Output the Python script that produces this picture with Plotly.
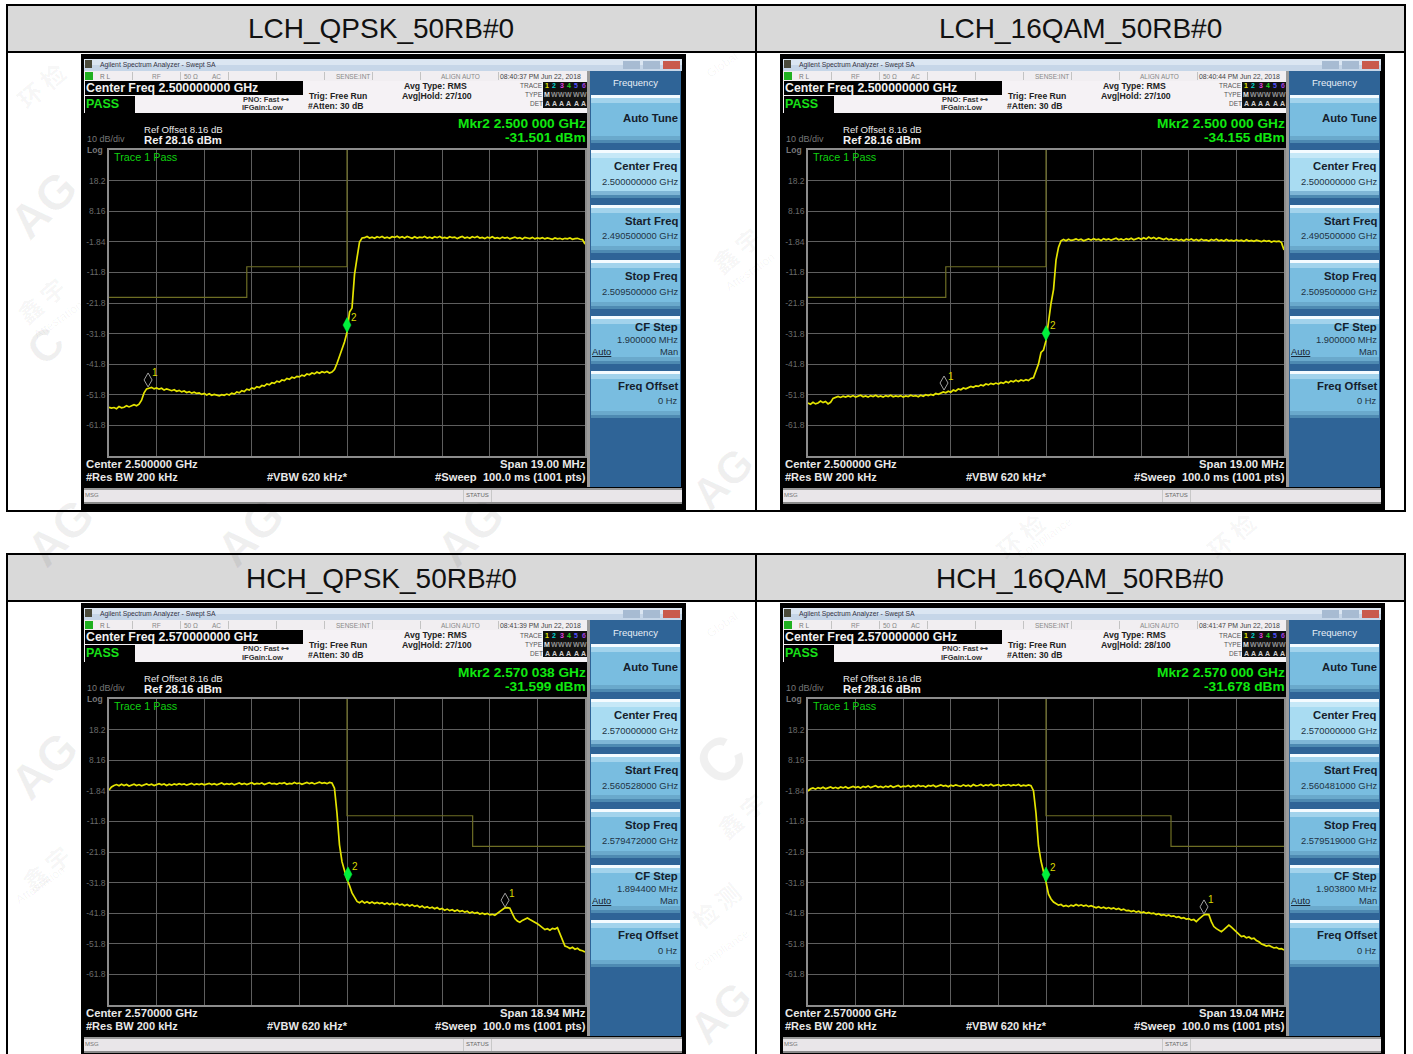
import numpy as np
import plotly.graph_objects as go

W, H = 1413, 1054

# ---------- text content ----------
panel_titles = ["LCH_QPSK_50RB#0", "LCH_16QAM_50RB#0", "HCH_QPSK_50RB#0", "HCH_16QAM_50RB#0"]
center_freq = ["2.500000000 GHz", "2.500000000 GHz", "2.570000000 GHz", "2.570000000 GHz"]
center_short = ["2.500000 GHz", "2.500000 GHz", "2.570000 GHz", "2.570000 GHz"]
timestamps = ["08:40:37 PM Jun 22, 2018", "08:40:44 PM Jun 22, 2018", "08:41:39 PM Jun 22, 2018", "08:41:47 PM Jun 22, 2018"]
avg_hold = ["27/100", "27/100", "27/100", "28/100"]
mkr_freq = ["2.500 000 GHz", "2.500 000 GHz", "2.570 038 GHz", "2.570 000 GHz"]
mkr_level = ["-31.501 dBm", "-34.155 dBm", "-31.599 dBm", "-31.678 dBm"]
start_freq = ["2.490500000 GHz", "2.490500000 GHz", "2.560528000 GHz", "2.560481000 GHz"]
stop_freq = ["2.509500000 GHz", "2.509500000 GHz", "2.579472000 GHz", "2.579519000 GHz"]
cf_step = ["1.900000 MHz", "1.900000 MHz", "1.894400 MHz", "1.903800 MHz"]
span_text = ["19.00 MHz", "19.00 MHz", "18.94 MHz", "19.04 MHz"]

# ---------- axes ----------
span_mhz = [19.00, 19.00, 18.94, 19.04]
level_ticks = [18.16, 8.16, -1.84, -11.84, -21.84, -31.84, -41.84, -51.84, -61.84]
level_labels = ["18.2", "8.16", "-1.84", "-11.8", "-21.8", "-31.8", "-41.8", "-51.8", "-61.8"]
level_top, level_bottom = 28.16, -71.84

# ---------- limit lines (MHz from centre, dBm) ----------
limit_low_f = [-9.5, -4.0, -4.0, 0.0, 0.0, 9.5]
limit_low_l = [-20, -20, -10, -10, 30, 30]
limit_high_q_f = [-9.47, 0.0, 0.0, 5.0, 5.0, 9.47]
limit_high_16_f = [-9.52, 0.0, 0.0, 5.0, 5.0, 9.52]
limit_high_l = [30, 30, -10, -10, -20, -20]

# ---------- traces: level read at each 1/190 of the span, left to right ----------
t1_l = [-55.9,-56.2,-56.0,-56.4,-55.7,-56.1,-55.9,-55.4,-55.8,-55.5,-55.1,-55.4,-54.9,-53.6,-51.2,-49.9,
        -49.6,-49.4,-49.9,-49.6,-50.0,-49.7,-50.3,-49.9,-50.2,-50.5,
        -50.2,-50.7,-50.4,-50.9,-50.6,-51.1,-50.8,-51.3,-51.0,-51.4,
        -51.2,-51.7,-51.4,-51.9,-51.5,-52.0,-51.7,-51.9,-52.2,-51.8,
        -52.0,-51.6,-51.9,-51.3,-51.6,-50.9,-51.2,-50.5,-50.8,-50.0,
        -50.3,-49.6,-49.9,-49.2,-49.5,-48.8,-49.0,-48.3,-48.6,-47.9,
        -48.1,-47.4,-47.7,-47.0,-47.2,-46.5,-46.8,-46.1,-46.4,-45.8,
        -46.0,-45.4,-45.7,-45.0,-45.3,-44.7,-45.0,-44.4,-44.8,-44.3,
        -44.6,-44.2,-44.7,-44.4,-43.6,-41.6,-39.4,-37.0,-34.6,-31.5,
        -24.8,-23.5,-12.5,-7.1,-1.9,-0.6,
        -0.5,-0.1,-0.6,-0.3,-0.7,-0.2,-0.5,-0.1,-0.6,-0.3,
        -0.7,-0.2,-0.4,0.0,-0.5,-0.2,-0.6,-0.1,-0.4,-0.7,
        -0.2,-0.6,-0.3,-0.5,-0.1,-0.6,-0.3,-0.7,-0.2,-0.5,
        -0.1,-0.6,-0.4,-0.7,-0.2,-0.5,-0.3,-0.8,-0.4,-0.1,
        -0.6,-0.3,-0.7,-0.2,-0.5,-0.1,-0.6,-0.4,-0.8,-0.3,
        -0.6,-0.2,-0.7,-0.5,-0.8,-0.3,-0.6,-0.4,-0.9,-0.5,
        -0.3,-0.7,-0.5,-0.9,-0.4,-0.6,-0.8,-0.4,-0.9,-0.6,
        -0.8,-0.5,-0.9,-0.6,-0.8,-1.0,-0.6,-0.9,-0.7,-1.0,
        -0.7,-0.9,-0.6,-1.0,-0.8,-0.7,-1.0,-1.1,-2.6]

t2_l = [-54.5,-54.9,-54.3,-54.8,-54.5,-53.9,-54.4,-54.0,-54.8,-54.3,
        -53.0,-52.7,-52.4,-52.7,-52.3,-52.6,
        -52.2,-52.5,-52.1,-52.6,-52.3,-52.0,-52.5,-52.2,-52.6,-52.1,
        -52.4,-52.0,-52.5,-52.2,-52.6,-52.1,-52.4,-52.0,-52.5,-52.2,
        -52.4,-52.1,-52.6,-52.2,-52.4,-52.0,-52.3,-52.1,-52.5,-52.0,
        -52.3,-51.8,-52.1,-51.7,-52.0,-51.4,-51.7,-51.2,-50.9,-51.2,
        -50.7,-51.0,-50.3,-50.6,-49.9,-50.2,-49.6,-49.9,-49.4,-49.1,
        -49.4,-48.9,-49.1,-48.6,-48.9,-48.3,-48.6,-48.1,-48.4,-48.0,
        -48.3,-47.8,-48.1,-47.5,-47.9,-47.3,-47.6,-47.1,-47.5,-47.0,
        -47.3,-46.9,-47.2,-46.5,-46.3,-44.2,-41.8,-38.0,-37.2,-34.16,
        -27.5,-22.0,-17.5,-7.8,-3.6,-1.5,
        -1.1,-1.5,-1.0,-1.4,-1.2,-0.9,-1.3,-1.0,-1.5,-1.1,
        -0.9,-1.3,-0.8,-1.2,-1.0,-1.4,-0.8,-1.2,-0.9,-1.3,
        -1.0,-0.7,-1.2,-0.9,-1.3,-0.8,-1.1,-0.7,-1.2,-0.9,
        -0.6,-1.0,-0.5,-0.9,-0.3,-0.8,-0.4,-0.9,-0.5,-0.8,
        -1.1,-0.7,-1.2,-0.9,-1.3,-1.0,-1.4,-1.1,-1.5,-1.0,
        -1.3,-0.9,-1.4,-1.1,-1.5,-1.0,-1.4,-1.2,-1.6,-1.1,
        -1.4,-1.0,-1.5,-1.2,-1.6,-1.1,-1.5,-1.3,-1.6,-1.2,
        -1.5,-1.3,-1.7,-1.2,-1.6,-1.4,-1.7,-1.3,-1.5,-1.8,
        -1.4,-1.7,-1.5,-1.9,-1.6,-1.8,-1.6,-2.1,-4.5]

t3_l = [-1.6,-0.6,-0.1,0.2,-0.2,0.3,-0.1,0.2,-0.3,0.1,
        0.3,-0.1,0.2,-0.2,0.1,0.4,0.0,0.3,-0.1,0.2,
        0.5,0.1,0.4,-0.1,0.3,0.0,0.4,0.1,0.5,0.2,
        0.4,0.0,0.3,0.6,0.1,0.4,0.2,0.5,0.1,0.3,
        0.6,0.2,0.5,0.1,0.4,0.7,0.2,0.5,0.3,0.6,
        0.1,0.4,0.7,0.3,0.6,0.2,0.5,0.8,0.3,0.6,
        0.4,0.7,0.2,0.5,0.8,0.4,0.6,0.3,0.7,0.5,
        0.8,0.3,0.6,0.4,0.9,0.5,0.7,0.3,0.6,0.9,
        0.5,0.8,0.4,0.7,1.0,0.6,0.8,0.5,0.9,0.7,
        -1.0,-9.1,-19.5,-25.0,-28.2,-30.8,-32.8,-35.2,-36.6,-38.0,
        -38.4,-37.9,-38.5,-38.1,-38.6,-38.2,-38.7,-38.3,-38.7,-38.4,
        -38.9,-38.5,-39.0,-38.6,-39.1,-38.7,-39.2,-38.9,-39.4,-39.0,
        -39.5,-39.1,-39.6,-39.3,-39.9,-39.5,-40.1,-39.7,-40.2,-39.9,
        -40.4,-40.0,-40.6,-40.3,-40.9,-40.5,-41.0,-40.7,-41.2,-40.8,
        -41.3,-41.0,-41.5,-41.2,-41.8,-41.4,-41.9,-41.6,-42.1,-41.8,
        -42.2,-41.9,-42.4,-42.2,-42.5,-41.9,-41.2,-40.6,-40.1,-40.0,
        -40.2,-42.0,-43.6,-44.4,-44.8,-44.2,-43.7,-43.4,-43.9,-44.3,
        -44.8,-45.3,-45.9,-46.5,-47.2,-46.9,-47.4,-46.8,-47.0,-46.6,
        -48.5,-51.0,-52.6,-52.9,-53.4,-53.0,-53.6,-53.3,-53.9,-54.1,-54.5]

t4_l = [-1.9,-1.2,-0.9,-1.3,-0.8,-1.1,-0.7,-1.2,-0.9,-0.6,
        -1.0,-0.7,-1.1,-0.6,-0.9,-0.5,-1.0,-0.7,-0.4,-0.8,
        -0.5,-0.9,-0.4,-0.7,-0.3,-0.8,-0.5,-0.2,-0.7,-0.4,
        -0.8,-0.3,-0.6,-0.2,-0.7,-0.4,-0.1,-0.6,-0.3,-0.5,
        -0.1,-0.6,-0.2,-0.5,0.0,-0.4,-0.2,-0.6,-0.1,-0.3,
        0.0,-0.5,-0.2,0.1,-0.3,-0.1,-0.5,0.0,-0.3,0.1,
        -0.2,-0.4,0.1,-0.3,0.0,-0.4,0.2,-0.2,-0.1,0.2,
        -0.3,0.1,-0.1,0.3,-0.2,0.0,0.2,-0.3,0.1,-0.1,
        0.2,-0.2,0.1,-0.1,0.2,-0.3,0.0,-0.2,0.1,-0.17,
        -1.8,-9.1,-19.8,-24.8,-27.9,-31.68,-35.6,-37.2,-38.2,-38.6,
        -39.2,-39.0,-39.6,-39.3,-39.7,-39.2,-39.5,-39.0,-39.4,-39.1,
        -39.5,-39.2,-39.7,-39.4,-39.8,-40.1,-39.7,-40.2,-39.9,-40.3,
        -40.0,-40.4,-40.1,-40.6,-40.3,-40.8,-40.5,-41.0,-40.9,-41.3,
        -41.0,-41.5,-41.2,-41.7,-41.4,-41.9,-41.6,-42.0,-41.8,-42.3,
        -42.0,-42.5,-42.3,-42.7,-42.4,-42.9,-42.7,-43.2,-43.0,-43.5,
        -43.3,-43.8,-43.6,-44.1,-43.9,-44.6,-43.8,-43.0,-42.4,-42.2,
        -42.3,-44.6,-46.2,-46.9,-47.3,-47.9,-47.2,-46.4,-45.7,-46.4,
        -47.2,-48.0,-48.8,-49.5,-49.3,-49.9,-49.6,-50.2,-50.0,-50.8,
        -51.2,-51.9,-52.2,-52.6,-52.4,-52.9,-53.2,-53.0,-53.5,-53.4,-53.9]

trace_l = [t1_l, t2_l, t3_l, t4_l]
limit_f = [limit_low_f, limit_low_f, limit_high_q_f, limit_high_16_f]
limit_l = [limit_low_l, limit_low_l, limit_high_l, limit_high_l]

# ---------- markers (MHz from centre, dBm at the trace) ----------
mkr1_f = [-7.94, -4.07, 6.29, 6.32]
mkr1_l = [-49.6, -50.6, -40.2, -42.4]
mkr2_f = [0.0, 0.0, 0.038, 0.0]
mkr2_l = [-31.501, -34.155, -31.599, -31.678]

FONT = "Liberation Sans"
shapes, annos = [], []

def X(px): return px / W
def Y(py): return 1 - py / H

def rect(x0, y0, x1, y1, fill):
    shapes.append(dict(type="rect", xref="paper", yref="paper", x0=X(x0), x1=X(x1), y0=Y(y0), y1=Y(y1),
                       fillcolor=fill, line=dict(width=0), layer="below"))

def txt(px, py, s, size, color, anchor="left", bold=False, angle=0, family=FONT):
    nudge = {"left": -1, "right": 1.5, "center": 0}[anchor]
    annos.append(dict(xref="paper", yref="paper", x=X(px + nudge), y=Y(py), xanchor=anchor, yanchor="middle",
                      text=f"<b>{s}</b>" if bold else s, showarrow=False, textangle=angle, borderpad=0,
                      font=dict(family=family, size=size, color=color)))

# ---------- report table ----------
rect(7, 6, 1405, 52, "#d9d9d9")
rect(7, 555, 1405, 601, "#d9d9d9")
for (a, b, c, d) in [(6, 4, 1406, 6), (6, 51, 1406, 53), (6, 510, 1406, 512), (6, 553, 1406, 555), (6, 600, 1406, 602),
                     (6, 4, 8, 512), (1404, 4, 1406, 512), (755, 4, 757, 512),
                     (6, 553, 8, 1054), (1404, 553, 1406, 1054), (755, 553, 757, 1054)]:
    rect(a, b, c, d, "#000000")

centers = [(381, 29), (1080, 29), (381, 578), (1080, 578)]
for (cx, cy), t in zip(centers, panel_titles):
    txt(cx, cy, t, 28, "#111111", "center")

# ---------- analyzer windows ----------
offsets = [(0, 0), (699, 0), (0, 549), (699, 549)]
TRACE_COL = ["#e0e000", "#00d0d0", "#e040e0", "#20d020", "#5050ff", "#a040e0"]
layout_axes = {}
data = []

for i, (ox, oy) in enumerate(offsets):
    def R(a, b, c, d, f): rect(a + ox, b + oy, c + ox, d + oy, f)
    def T(a, b, s, size, col, anchor="left", bold=False): txt(a + ox, b + oy, s, size, col, anchor, bold)

    R(81, 54, 686, 510, "#000000")
    # title bar
    R(84, 59, 682, 65, "#dbe6f2")
    R(84, 65, 682, 71, "#c6d6e8")
    R(85, 60, 92, 68, "#4a4a3a")
    T(100, 65, "Agilent Spectrum Analyzer - Swept SA", 6.8, "#333344")
    R(623, 61, 640, 69, "#a7bbd2")
    R(643, 61, 660, 69, "#a7bbd2")
    R(663, 61, 680, 69, "#c95a4c")
    # status row
    R(84, 71, 587, 81, "#f1eef1")
    R(85, 72, 93, 80, "#20b020")
    for sx in [132, 180, 228, 276, 324, 372, 420, 498]:
        R(sx, 72, sx + 0.8, 80, "#b8b8b8")
    T(100, 76, "R L", 6.5, "#777777")
    T(152, 76, "RF", 6.5, "#888888")
    T(184, 76, "50 Ω", 6.5, "#888888")
    T(212, 76, "AC", 6.5, "#888888")
    T(336, 76, "SENSE:INT", 6.5, "#888888")
    T(441, 76, "ALIGN AUTO", 6.5, "#888888")
    T(500, 76, timestamps[i], 6.9, "#444444")
    # info row
    R(84, 81, 587, 113, "#f5f2f5")
    R(85, 81, 303, 95, "#000000")
    T(86, 88, f"Center Freq {center_freq[i]}", 12.3, "#f0f0f0", bold=True)
    R(85, 96, 135, 113, "#000000")
    T(86, 104, "PASS", 12.5, "#18e018", bold=True)
    T(243, 99, "PNO: Fast ⊶", 7.5, "#333333", bold=True)
    T(242, 108, "IFGain:Low", 7.5, "#333333", bold=True)
    T(309, 96, "Trig: Free Run", 8.6, "#222222", bold=True)
    T(308, 106, "#Atten: 30 dB", 8.6, "#222222", bold=True)
    T(404, 86, "Avg Type: RMS", 8.7, "#222222", bold=True)
    T(402, 96, f"Avg|Hold: {avg_hold[i]}", 8.7, "#222222", bold=True)
    T(542, 86, "TRACE", 6.5, "#555555", "right")
    T(542, 95, "TYPE", 6.5, "#555555", "right")
    T(542, 104, "DET", 6.5, "#555555", "right")
    R(543, 82, 587, 108, "#111111")
    for k in range(6):
        cx = 547 + k * 7.3
        T(cx, 86, str(k + 1), 7, TRACE_COL[k], "center", True)
        T(cx, 95, "M" if k == 0 else "W", 7, "#e0e0e0" if k == 0 else "#909090", "center", True)
        T(cx, 104, "A", 7, "#d0d0d0", "center", True)
    # screen text
    T(144, 129, "Ref Offset 8.16 dB", 9.6, "#e8e8e8")
    T(144, 140, "Ref 28.16 dBm", 11.3, "#f0f0f0", bold=True)
    T(87, 139, "10 dB/div", 9, "#777777")
    T(87, 149.5, "Log", 8.5, "#777777", bold=True)
    T(114, 157, "Trace 1 Pass", 10.8, "#10d010")
    T(585, 123, f"Mkr2 {mkr_freq[i]}", 13.7, "#10e810", "right", True)
    T(585, 137, mkr_level[i], 13.7, "#10e810", "right", True)
    T(86, 464, f"Center {center_short[i]}", 11.3, "#e8e8e8", bold=True)
    T(86, 477, "#Res BW 200 kHz", 11, "#e8e8e8", bold=True)
    T(267, 477, "#VBW 620 kHz*", 11, "#e8e8e8", bold=True)
    T(585, 464, f"Span {span_text[i]}", 11.3, "#e8e8e8", "right", True)
    T(585, 477, "#Sweep  100.0 ms (1001 pts)", 11.2, "#e8e8e8", "right", True)
    # soft keys
    R(587, 71, 590, 487, "#9a9a9a")
    R(590, 71, 681, 487, "#2f6497")
    T(635, 83, "Frequency", 9.5, "#e8eef6", "center")
    keys = [(95, 142, False), (150, 197, True), (205, 252, False), (260, 308, False), (316, 363, False), (371, 417, False)]
    for (a, b, hi) in keys:
        body = "#a9dcf2" if hi else "#79bde0"
        R(591, a, 680, a + 3, "#f4fbff")
        R(591, a + 3, 680, a + 8, "#c6e8f7" if hi else "#a2d3ec")
        R(591, a + 8, 680, b - 6, body)
        R(591, b - 6, 680, b - 2, "#6aa9cc" if not hi else "#7fb6d6")
        R(591, b - 2, 680, b + 1, "#4e8ab2")
    T(677, 118, "Auto Tune", 11.3, "#15202c", "right", True)
    T(677, 166, "Center Freq", 11.3, "#15202c", "right", True)
    T(677, 181, center_freq[i], 9.4, "#223344", "right")
    T(677, 221, "Start Freq", 11.3, "#15202c", "right", True)
    T(677, 236, start_freq[i], 9.4, "#223344", "right")
    T(677, 276, "Stop Freq", 11.3, "#15202c", "right", True)
    T(677, 291, stop_freq[i], 9.4, "#223344", "right")
    T(677, 327, "CF Step", 11.3, "#15202c", "right", True)
    T(677, 339, cf_step[i], 9.4, "#223344", "right")
    T(592, 351, "<u>Auto</u>", 9.4, "#15202c")
    T(677, 351, "Man", 9.4, "#223344", "right")
    T(677, 386, "Freq Offset", 11.3, "#15202c", "right", True)
    T(677, 401, "0 Hz", 9.4, "#223344", "right")
    # message bar
    R(84, 488, 682, 504, "#e9e6e9")
    R(84, 488, 682, 490, "#9a9a9a")
    R(84, 502, 682, 504, "#8a8a8a")
    R(463, 490, 464, 502, "#c8c8c8")
    R(491, 490, 492, 502, "#c8c8c8")
    T(85, 495, "MSG", 6, "#777777")
    T(477, 495, "STATUS", 6, "#666666", "center")

    # plot area through Plotly axes
    n = "" if i == 0 else str(i + 1)
    half = span_mhz[i] / 2
    step = span_mhz[i] / 10
    layout_axes[f"xaxis{n}"] = dict(
        domain=[X(109 + ox), X(585 + ox)], range=[-half, half], anchor=f"y{n}",
        tickvals=[-half + step * k for k in range(11)], showticklabels=False,
        showgrid=True, gridcolor="#5e5e5e", gridwidth=1, zeroline=False,
        showline=True, linecolor="#8c8c8c", linewidth=1.5, mirror=True, ticks="")
    layout_axes[f"yaxis{n}"] = dict(
        domain=[Y(456 + oy), Y(150 + oy)], range=[level_bottom, level_top], anchor=f"x{n}",
        tickvals=level_ticks, ticktext=level_labels, showgrid=True, gridcolor="#5e5e5e", gridwidth=1,
        zeroline=False, showline=True, linecolor="#8c8c8c", linewidth=1.5, mirror=True, ticks="",
        tickfont=dict(family=FONT, size=8.5, color="#6a6a6a"))

    data.append(go.Scatter(x=limit_f[i], y=limit_l[i], xaxis=f"x{n}", yaxis=f"y{n}", mode="lines",
                           line=dict(color="#6e6e24", width=1.2), cliponaxis=False, hoverinfo="skip"))
    sweep = np.linspace(-half, half, len(trace_l[i]))
    data.append(go.Scatter(x=sweep, y=trace_l[i], xaxis=f"x{n}", yaxis=f"y{n}", mode="lines",
                           line=dict(color="#e4e400", width=1.7), hoverinfo="skip"))

    xr, yr = f"x{n}", f"y{n}"
    shapes.append(dict(type="path", xref=xr, yref=yr, xsizemode="pixel", ysizemode="pixel",
                       xanchor=mkr1_f[i], yanchor=mkr1_l[i], path="M0,1 L4,8 L0,15 L-4,8 Z",
                       fillcolor="rgba(0,0,0,0)", line=dict(color="#a0a0a0", width=1), layer="above"))
    shapes.append(dict(type="path", xref=xr, yref=yr, xsizemode="pixel", ysizemode="pixel",
                       xanchor=mkr2_f[i], yanchor=mkr2_l[i], path="M0,0 L4,7.5 L0,15 L-4,7.5 Z",
                       fillcolor="#00f03c", line=dict(color="#00f03c", width=0.5), layer="above"))
    for mf, ml, lab in [(mkr1_f[i], mkr1_l[i], "1"), (mkr2_f[i], mkr2_l[i], "2")]:
        annos.append(dict(xref=xr, yref=yr, x=mf, y=ml, xshift=7, yshift=15, text=lab, showarrow=False,
                          font=dict(family=FONT, size=10, color="#d8d800")))

# ---------- faint watermarks: black at low alpha vanishes on the black screens ----------
WM = "rgba(0,0,0,0.06)"
WM2 = "rgba(0,0,0,0.045)"
for (a, b, s, size) in [(60, 532, "AG", 48), (250, 532, "AG", 48), (470, 532, "AG", 48), (722, 478, "AG", 44),
                        (720, 1012, "AG", 44), (44, 205, "AG", 48), (44, 765, "AG", 48), (720, 760, "C", 60),
                        (45, 345, "C", 44)]:
    txt(a, b, s, size, WM, "center", True, -45)
for (a, b, s) in [(40, 300, "鑫 宇"), (735, 250, "鑫 宇"), (45, 868, "鑫 宇"), (740, 815, "鑫 宇"),
                  (40, 85, "环 检"), (715, 905, "检 测"), (1020, 535, "环 检"), (1230, 535, "环 检")]:
    txt(a, b, s, 24, WM2, "center", True, -40, "Noto Sans CJK SC")
for (a, b, s) in [(58, 320, "Attestation"), (750, 272, "Attestation"), (40, 885, "Attestation"), (722, 950, "Compliance"),
                  (722, 65, "Global"), (722, 625, "Global"), (1045, 538, "Compliance")]:
    txt(a, b, s, 12, WM2, "center", False, -35)

fig = go.Figure(data=data)
fig.update_layout(width=W, height=H, autosize=False, margin=dict(l=0, r=0, t=0, b=0, pad=0),
                  paper_bgcolor="#ffffff", plot_bgcolor="#000000", showlegend=False, hovermode=False,
                  shapes=shapes, annotations=annos, **layout_axes)
fig.write_html("out.html", config={"displayModeBar": False},
               post_script="document.body.style.margin='0';document.body.style.overflow='hidden';")
